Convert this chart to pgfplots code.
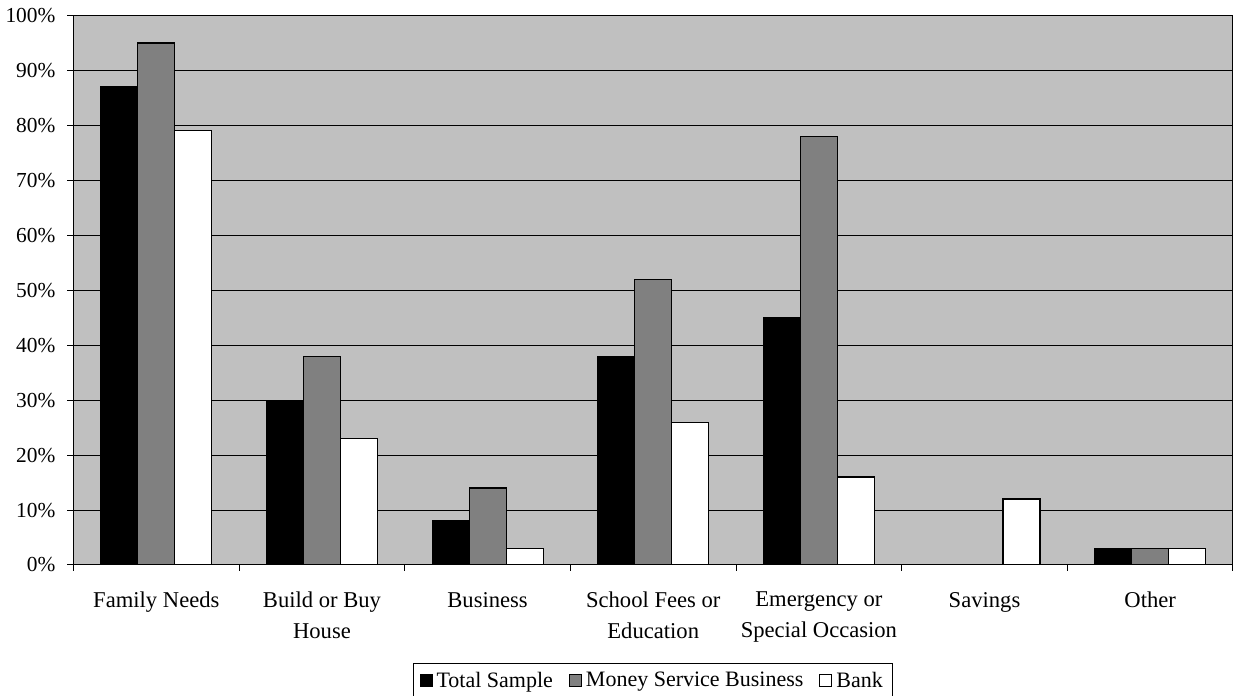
\documentclass[border=0pt]{standalone}
\usepackage{fontspec}
\setmainfont{Liberation Serif}
\usepackage{pgfplots}
\pgfplotsset{compat=1.18}
\definecolor{bgC}{HTML}{C0C0C0}
\definecolor{msb}{HTML}{808080}
\begin{document}
\begin{tikzpicture}
\path[use as bounding box] (-36.75pt,-65.5pt) rectangle (579.75pt,282.5pt);
\begin{axis}[
  at={(0pt,0pt)}, anchor=south west,
  scale only axis, width=579.75pt, height=274.75pt,
  ybar=0pt, bar width=18.5pt,
  xmin=-0.5, xmax=6.5, ymin=0, ymax=100,
  axis background/.style={fill=bgC},
  axis line style={black, line width=0.5pt},
  ymajorgrids, grid style={black, line width=0.5pt},
  tick align=outside, major tick length=3pt,
  tick style={black, line width=0.5pt},
  xtick pos=bottom, ytick pos=left,
  xtick={-0.5,0.5,...,6.5}, xticklabels={},
  extra x ticks={0,1,2,3,4,5,6},
  extra x tick labels={Family Needs, {Build or Buy\\House}, Business, {School Fees or\\Education}, {Emergency or\\Special Occasion}, Savings, Other},
  extra x tick style={major tick length=0pt, xticklabel style={align=center, font=\fontsize{11.3}{15.3}\selectfont, yshift=-10pt}},
  ytick={0,10,...,100},
  yticklabel={\pgfmathprintnumber{\tick}\%},
  yticklabel style={font=\fontsize{10.7}{12}\selectfont, xshift=-2.5pt},
  /pgf/number format/assume math mode=true,
  legend columns=-1,
  legend style={at={(0.5,-0.211)}, anchor=center, draw=black, line width=0.5pt,
    font=\fontsize{11}{12}\selectfont,
    /tikz/every even column/.append style={column sep=6pt}},
  legend image code/.code={\draw[#1, line width=0.5pt] (0pt,-3pt) rectangle (6pt,3pt);},
]
\addplot[fill=black, draw=black, line width=0.6pt] coordinates {(0,87) (1,30) (2,8) (3,38) (4,45) (6,3)};
\addplot[fill=msb, draw=black, line width=0.6pt] coordinates {(0,95) (1,38) (2,14) (3,52) (4,78) (6,3)};
\addplot[fill=white, draw=black, line width=0.6pt] coordinates {(0,79) (1,23) (2,3) (3,26) (4,16) (5,12) (6,3)};
\legend{Total Sample, Money Service Business, Bank}
\end{axis}
\end{tikzpicture}
\end{document}
